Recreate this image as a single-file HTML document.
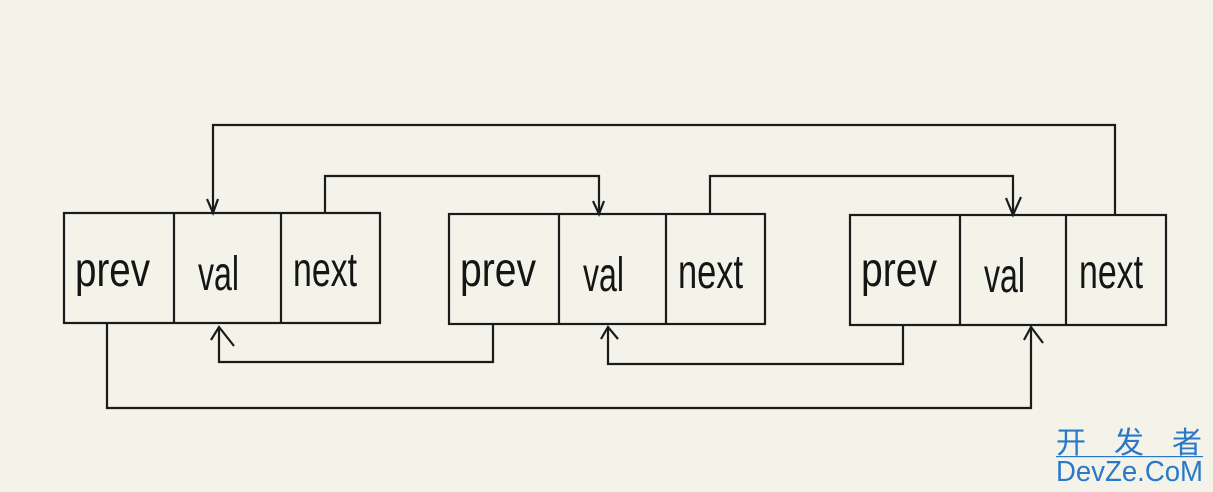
<!DOCTYPE html>
<html>
<head>
<meta charset="utf-8">
<style>
html,body{margin:0;padding:0;background:#f3f3e9;}
svg{display:block;}
</style>
</head>
<body>
<svg width="1213" height="492" viewBox="0 0 1213 492" xmlns="http://www.w3.org/2000/svg">
<rect x="0" y="0" width="1213" height="492" fill="#f3f3e9"/>
<g fill="none" stroke="#1b1b1b" stroke-width="2.2" stroke-linejoin="miter">
  <!-- box 1 -->
  <rect x="64" y="213" width="316" height="110"/>
  <line x1="174" y1="213" x2="174" y2="323"/>
  <line x1="281" y1="213" x2="281" y2="323"/>
  <!-- box 2 -->
  <rect x="449" y="214" width="316" height="110"/>
  <line x1="559" y1="214" x2="559" y2="324"/>
  <line x1="666" y1="214" x2="666" y2="324"/>
  <!-- box 3 -->
  <rect x="850" y="215" width="316" height="110"/>
  <line x1="960" y1="215" x2="960" y2="325"/>
  <line x1="1066" y1="215" x2="1066" y2="325"/>

  <!-- top long connector: box3 next -> box1 val -->
  <polyline points="1115,215 1115,125 213,125 213,213"/>
  <polyline points="207,199 213,213 218,199"/>
  <!-- box1 next -> box2 val -->
  <polyline points="325,213 325,176 599,176 599,214"/>
  <polyline points="593,201 599,214 604,201"/>
  <!-- box2 next -> box3 val -->
  <polyline points="710,214 710,176 1013,176 1013,215"/>
  <polyline points="1006,198 1013,215 1021,197"/>

  <!-- box2 prev -> box1 val -->
  <polyline points="493,324 493,362 219,362 219,327"/>
  <polyline points="211,340 219,327 234,346"/>
  <!-- box3 prev -> box2 val -->
  <polyline points="903,325 903,364 608,364 608,327"/>
  <polyline points="601,339 608,327 618,339"/>
  <!-- bottom long: box1 prev -> box3 val -->
  <polyline points="107,323 107,408 1031,408 1031,327"/>
  <polyline points="1024,340 1031,327 1043,343"/>
</g>
<g font-family="Liberation Sans, DejaVu Sans, sans-serif" font-size="48" fill="#151515">
  <text x="75" y="286" textLength="75" lengthAdjust="spacingAndGlyphs">prev</text>
  <text x="198" y="290" textLength="41" lengthAdjust="spacingAndGlyphs">val</text>
  <text x="293" y="286" textLength="64" lengthAdjust="spacingAndGlyphs">next</text>

  <text x="460" y="286" textLength="76" lengthAdjust="spacingAndGlyphs">prev</text>
  <text x="583" y="291" textLength="41" lengthAdjust="spacingAndGlyphs">val</text>
  <text x="678" y="288" textLength="65" lengthAdjust="spacingAndGlyphs">next</text>

  <text x="861" y="286" textLength="76" lengthAdjust="spacingAndGlyphs">prev</text>
  <text x="984" y="292" textLength="41" lengthAdjust="spacingAndGlyphs">val</text>
  <text x="1079" y="288" textLength="64" lengthAdjust="spacingAndGlyphs">next</text>
</g>
<!-- watermark -->
<g fill="#2a78c8">
  <text x="1056" y="453" font-family="Noto Sans CJK SC, WenQuanYi Zen Hei, sans-serif" font-size="30" textLength="146" lengthAdjust="spacing">开 发 者</text>
  <rect x="1056" y="456" width="147" height="1.2"/>
  <text x="1056" y="481" font-family="Liberation Sans, DejaVu Sans, sans-serif" font-size="29" textLength="147" lengthAdjust="spacingAndGlyphs">DevZe.CoM</text>
</g>
</svg>
</body>
</html>
